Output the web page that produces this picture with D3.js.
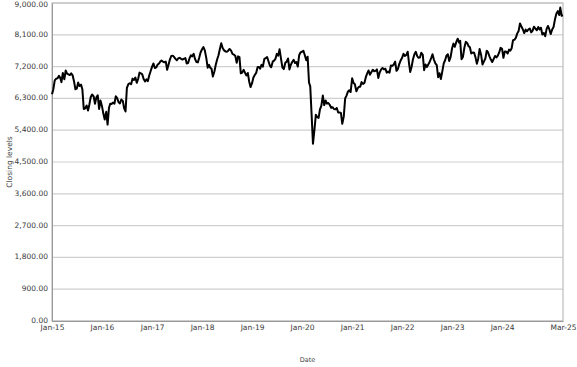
<!DOCTYPE html>
<html><head><meta charset="utf-8">
<script src="https://cdn.jsdelivr.net/npm/d3@7"></script>
<style>body{margin:0;background:#fff}svg{display:block}</style>
</head><body><div id="c"></div>
<script>
// Months covered (three readings per month, on days 1, 11, 21)
const months = [
"2015-01","2015-02","2015-03","2015-04","2015-05","2015-06","2015-07","2015-08","2015-09","2015-10","2015-11","2015-12",
"2016-01","2016-02","2016-03","2016-04","2016-05","2016-06","2016-07","2016-08","2016-09","2016-10","2016-11","2016-12",
"2017-01","2017-02","2017-03","2017-04","2017-05","2017-06","2017-07","2017-08","2017-09","2017-10","2017-11","2017-12",
"2018-01","2018-02","2018-03","2018-04","2018-05","2018-06","2018-07","2018-08","2018-09","2018-10","2018-11","2018-12",
"2019-01","2019-02","2019-03","2019-04","2019-05","2019-06","2019-07","2019-08","2019-09","2019-10","2019-11","2019-12",
"2020-01","2020-02","2020-03","2020-04","2020-05","2020-06","2020-07","2020-08","2020-09","2020-10","2020-11","2020-12",
"2021-01","2021-02","2021-03","2021-04","2021-05","2021-06","2021-07","2021-08","2021-09","2021-10","2021-11","2021-12",
"2022-01","2022-02","2022-03","2022-04","2022-05","2022-06","2022-07","2022-08","2022-09","2022-10","2022-11","2022-12",
"2023-01","2023-02","2023-03","2023-04","2023-05","2023-06","2023-07","2023-08","2023-09","2023-10","2023-11","2023-12",
"2024-01","2024-02","2024-03","2024-04","2024-05","2024-06","2024-07","2024-08","2024-09","2024-10","2024-11","2024-12",
"2025-01","2025-02","2025-03"];
const readingDays = [1, 11, 21];
// Closing levels, three per month
const closes = [
6420,6560,6810, 6860,6870,6940, 6890,6760,7020, 6840,7090,7000, 6980,6960,7010, 6950,6780,6560,
6580,6750,6650, 6690,6550,6000, 6020,6100,5960, 6130,6340,6410, 6360,6150,6330, 6390,6000,6240,
6080,5870,5700, 5920,5560,6030, 6150,6140,6180, 6150,6360,6310, 6190,6160,6270, 6230,6020,5930,
6600,6700,6730, 6700,6860,6820, 6890,6740,6850, 7030,7010,6980, 6840,6780,6840, 6790,6950,7070,
7200,7290,7160, 7180,7260,7290, 7340,7370,7340, 7320,7340,7110, 7250,7400,7500, 7510,7470,7420,
7380,7430,7450, 7420,7400,7420, 7440,7290,7300, 7430,7520,7490, 7560,7410,7330, 7320,7450,7600,
7690,7750,7660, 7440,7170,7250, 7170,7140,6920, 7060,7250,7400, 7520,7700,7860, 7720,7660,7630,
7620,7650,7700, 7650,7560,7540, 7500,7310,7490, 7470,7010,7030, 7110,7020,6950, 7020,6780,6620,
6730,6890,6960, 7030,7190,7190, 7140,7250,7200, 7420,7440,7470, 7350,7230,7180, 7340,7370,7420,
7560,7510,7690, 7410,7170,7130, 7310,7340,7430, 7120,7250,7330, 7390,7300,7330, 7200,7520,7600,
7620,7650,7530, 7380,7480,6750, 6640,5840,5020, 5420,5840,5770, 5750,5990,6090, 6380,6110,6240,
6150,6170,6120, 6030,6050,6000, 5990,6030,5900, 5900,5890,5580, 5790,6300,6380, 6490,6530,6480,
6870,6740,6700, 6500,6590,6630, 6630,6760,6710, 6740,6900,7010, 7090,6970,7040, 7110,7070,7080,
7120,6880,7030, 7120,7160,7120, 7140,7030,7060, 7030,7230,7220, 7260,7340,7080, 7130,7270,7370,
7450,7560,7500, 7530,7620,7280, 7050,7190,7400, 7550,7620,7500, 7450,7460,7590, 7530,7100,7260,
7190,7260,7330, 7440,7550,7400, 7290,7240,6900, 7010,6850,7050, 7290,7380,7510, 7550,7360,7470,
7720,7850,7760, 7900,7990,7880, 7930,7410,7470, 7740,7900,7870, 7780,7750,7570, 7600,7590,7460,
7280,7430,7700, 7530,7260,7340, 7430,7650,7600, 7490,7400,7330, 7420,7500,7460, 7510,7600,7730,
7700,7450,7630, 7620,7570,7680, 7650,7720,7950, 7960,8020,8140, 8210,8420,8340, 8250,8150,8250,
8200,8250,8280, 8170,8220,8330, 8270,8230,8320, 8250,8300,8110, 8150,8060,8260, 8350,8260,8120,
8250,8320,8530, 8700,8770,8660, 8870,8640,8650];
const yTicks = [0,900,1800,2700,3600,4500,5400,6300,7200,8100,9000];
const xTickDates = ["2015-01-01","2016-01-01","2017-01-01","2018-01-01","2019-01-01","2020-01-01","2021-01-01","2022-01-01","2023-01-01","2024-01-01","2025-03-21"];

const parse = d3.timeParse("%Y-%m-%d");
const data = [];
months.forEach((m,i)=>readingDays.forEach((d,j)=>{
  const v = closes[i*3+j];
  if (v !== undefined) data.push({date: parse(m+"-"+String(d).padStart(2,"0")), close: v});
}));

const W=577,H=367, m={l:52,r:14,t:3,b:46};
const svg=d3.select("#c").append("svg").attr("width",W).attr("height",H);
const x=d3.scaleTime().domain(d3.extent(data,d=>d.date)).range([m.l,W-m.r]);
const y=d3.scaleLinear().domain([0,9000]).range([H-m.b,m.t]);
const font="DejaVu Sans, Verdana, sans-serif";

// grid
svg.append("g").selectAll("line").data(yTicks).join("line")
  .attr("x1",m.l).attr("x2",W-m.r).attr("y1",d=>y(d)).attr("y2",d=>y(d))
  .attr("stroke","#cfcfcf").attr("stroke-width",1.2);
// frame
svg.append("rect").attr("x",m.l).attr("y",m.t).attr("width",W-m.r-m.l).attr("height",H-m.b-m.t)
  .attr("fill","none").attr("stroke","#bdbdbd").attr("stroke-width",1.2);

// y axis
const ya=svg.append("g").attr("transform",`translate(${m.l},0)`)
  .call(d3.axisLeft(y).tickValues(yTicks).tickFormat(d3.format(",.2f")).tickSize(0).tickPadding(4));
ya.select(".domain").attr("stroke","#999");
ya.selectAll("text").attr("font-family",font).attr("font-size",7.5).attr("fill","#3a3a3a")
  .attr("dy",d=>d===9000?"0.45em":"0.2em");

// x axis
const xa=svg.append("g").attr("transform",`translate(0,${H-m.b})`)
  .call(d3.axisBottom(x).tickValues(xTickDates.map(parse)).tickFormat(d3.timeFormat("%b-%y")).tickSize(0).tickPadding(4));
xa.select(".domain").attr("stroke","#999");
xa.selectAll("text").attr("font-family",font).attr("font-size",7.5).attr("fill","#3a3a3a");

// line
svg.append("path").datum(data)
  .attr("d",d3.line().x(d=>x(d.date)).y(d=>y(d.close)))
  .attr("fill","none").attr("stroke","#000").attr("stroke-width",2).attr("stroke-linejoin","round");

// titles
svg.append("text").attr("x",(m.l+W-m.r)/2).attr("y",362).attr("text-anchor","middle")
  .attr("font-family",font).attr("font-size",6.5).attr("fill","#444").text("Date");
svg.append("text").attr("transform",`translate(12,${(m.t+H-m.b)/2}) rotate(-90)`).attr("text-anchor","middle")
  .attr("font-family",font).attr("font-size",7.5).attr("fill","#444").text("Closing levels");
</script></body></html>
